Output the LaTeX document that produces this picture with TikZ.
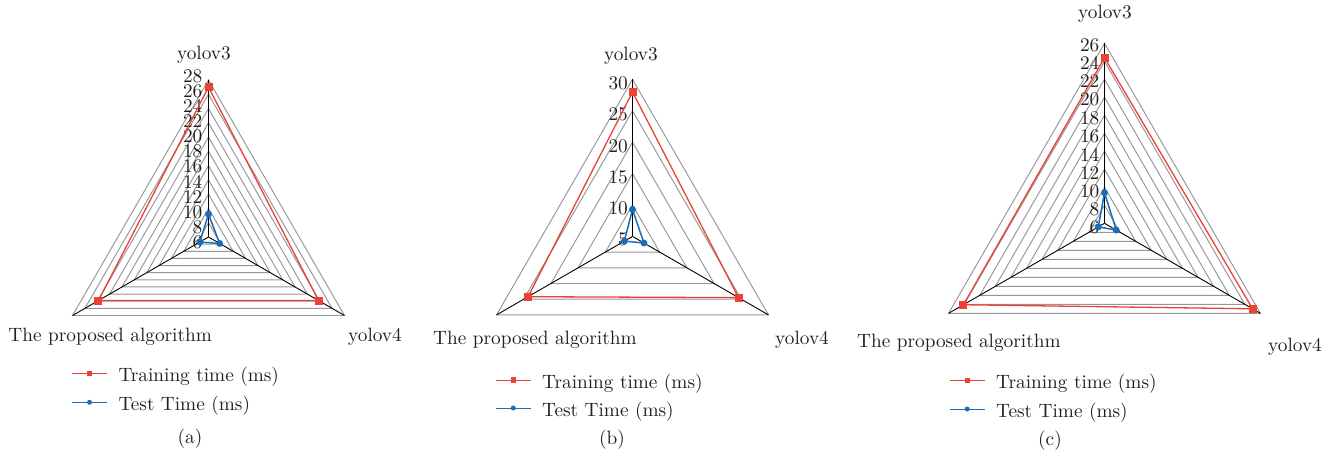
\documentclass[tikz,border=0pt]{standalone}
\usepackage{fontspec}
\setmainfont{lmroman10-regular.otf}
\usetikzlibrary{calc}
\definecolor{gridgrey}{RGB}{150,150,150}
\definecolor{trainred}{RGB}{234,67,53}
\definecolor{testblue}{RGB}{28,108,184}
\definecolor{textdark}{RGB}{35,31,32}
\tikzset{
  gridline/.style={draw=gridgrey, line width=0.95pt},
  axisline/.style={draw=black, line width=0.9pt},
  trainline/.style={draw=trainred, line width=1.3pt},
  testline/.style={draw=testblue, line width=1.5pt},
  trainmark/.style={rectangle, fill=trainred, minimum size=8pt, inner sep=0pt},
  testmark/.style={circle, fill=testblue, minimum size=7pt, inner sep=0pt},
  legtrainmark/.style={rectangle, fill=trainred, minimum size=5.5pt, inner sep=0pt},
  legtestmark/.style={circle, fill=testblue, minimum size=5pt, inner sep=0pt},
  lbl/.style={font=\fontsize{19.3}{22}\selectfont, text=textdark, inner sep=0pt},
  ticklbl/.style={lbl, anchor=east},
}
% chart parameters: name, radius, axis minimum, axis maximum, grid step
\newcommand\radarsetup[5]{\def\cn{#1}\def\cR{#2}\def\cmin{#3}\def\cmax{#4}\def\cstep{#5}}
% a data point on one of the three axes
\newcommand\radarpt[3]{\coordinate (#1) at ($(\cn-c)+(#2:{\cR*(#3-\cmin)/(\cmax-\cmin)})$);}
% concentric triangles and the three black spokes
\newcommand\radargrid{%
  \pgfmathtruncatemacro\nlev{round((\cmax-\cmin)/\cstep)}%
  \foreach \k in {1,...,\nlev}{%
    \pgfmathsetmacro\rr{\cR*\k/\nlev}%
    \draw[gridline] ($(\cn-c)+(270:\rr)$) -- ($(\cn-c)+(30:\rr)$) -- ($(\cn-c)+(150:\rr)$) -- cycle;
  }%
  \coordinate (\cn-v3) at ($(\cn-c)+(270:\cR)$);
  \coordinate (\cn-v4) at ($(\cn-c)+(30:\cR)$);
  \coordinate (\cn-vp) at ($(\cn-c)+(150:\cR)$);
  \draw[axisline] (\cn-c) -- (\cn-v3);
  \draw[axisline] (\cn-c) -- (\cn-v4);
  \draw[axisline] (\cn-c) -- (\cn-vp);
}
% training and test series: yolov3, yolov4, proposed
\newcommand\radardata[6]{%
  \radarpt{\cn-tr3}{270}{#1}\radarpt{\cn-tr4}{30}{#2}\radarpt{\cn-trp}{150}{#3}%
  \radarpt{\cn-te3}{270}{#4}\radarpt{\cn-te4}{30}{#5}\radarpt{\cn-tep}{150}{#6}%
  \draw[trainline] (\cn-tr3) -- (\cn-tr4) -- (\cn-trp) -- cycle;
  \node[trainmark] (\cn-mtr3) at (\cn-tr3) {};
  \node[trainmark] (\cn-mtr4) at (\cn-tr4) {};
  \node[trainmark] (\cn-mtrp) at (\cn-trp) {};
  \draw[testline] (\cn-te3) -- (\cn-te4) -- (\cn-tep) -- cycle;
  \node[testmark] (\cn-mte3) at (\cn-te3) {};
  \node[testmark] (\cn-mte4) at (\cn-te4) {};
  \node[testmark] (\cn-mtep) at (\cn-tep) {};
}
% legend block: left end of the lines, y of first and second row
\newcommand\radarlegend[3]{%
  \coordinate (\cn-l1a) at (#1,#2); \coordinate (\cn-l1b) at (#1+34.5,#2);
  \coordinate (\cn-l2a) at (#1,#3); \coordinate (\cn-l2b) at (#1+34.5,#3);
  \draw[trainred, line width=1pt] (\cn-l1a) -- (\cn-l1b);
  \node[legtrainmark] (\cn-l1m) at ($(\cn-l1a)!0.5!(\cn-l1b)$) {};
  \draw[testblue, line width=1pt] (\cn-l2a) -- (\cn-l2b);
  \node[legtestmark] (\cn-l2m) at ($(\cn-l2a)!0.5!(\cn-l2b)$) {};
  \node[lbl, anchor=base west] (\cn-l1t) at (#1+46,#2+8.4) {Training time (ms)};
  \node[lbl, anchor=base west] (\cn-l2t) at (#1+46,#3+8.4) {Test Time (ms)};
}
\begin{document}
\begin{tikzpicture}[x=1pt,y=-1pt]
\useasboundingbox (0,0) rectangle (1342,461);

% ---------------- (a) ----------------
\coordinate (a-c) at (208.5,237);
\radarsetup{a}{157}{6}{28}{2}
\radargrid
\foreach \v in {6,8,...,28}
  \node[ticklbl] at (202.5,{76+(28-\v)*166/22}) {\v};
\radardata{27}{23.8}{23.8}{9.2}{7.8}{7.4}
\node[lbl, anchor=base] (a-t3) at (204,59.3) {yolov3};
\node[lbl, anchor=base west] (a-tp) at (8.3,341) {The proposed algorithm};
\node[lbl, anchor=base west] (a-t4) at (348,341) {yolov4};
\radarlegend{72.3}{373.3}{402.3}
\node[lbl, anchor=base] (a-cap) at (190,443) {(a)};

% ---------------- (b) ----------------
\coordinate (b-c) at (632.5,236.4);
\radarsetup{b}{157}{5}{30}{5}
\radargrid
\foreach \v in {5,10,...,30}
  \node[ticklbl] at (628,{83.3+(30-\v)/5*31.25}) {\v};
\radardata{28}{24.5}{24.2}{9.3}{7.1}{6.5}
\node[lbl, anchor=base] (b-t3) at (631,60) {yolov3};
\node[lbl, anchor=base west] (b-tp) at (433,344) {The proposed algorithm};
\node[lbl, anchor=base west] (b-t4) at (775,344) {yolov4};
\radarlegend{496}{380}{408}
\node[lbl, anchor=base] (b-cap) at (612,444) {(b)};

% ---------------- (c) ----------------
\coordinate (c-c) at (1104.5,223.3);
\radarsetup{c}{180}{6}{26}{2}
\radargrid
\foreach \v in {6,8,...,26}
  \node[ticklbl] at (1099.5,{45+(26-\v)/2*18.25}) {\v};
\radardata{24.4}{25}{24.1}{9.4}{7.5}{6.8}
\node[lbl, anchor=base] (c-t3) at (1105,18.3) {yolov3};
\node[lbl, anchor=base west] (c-tp) at (857,347) {The proposed algorithm};
\node[lbl, anchor=base west] (c-t4) at (1268,351) {yolov4};
\radarlegend{950}{380.5}{409}
\node[lbl, anchor=base] (c-cap) at (1050,445) {(c)};
\end{tikzpicture}
\end{document}
